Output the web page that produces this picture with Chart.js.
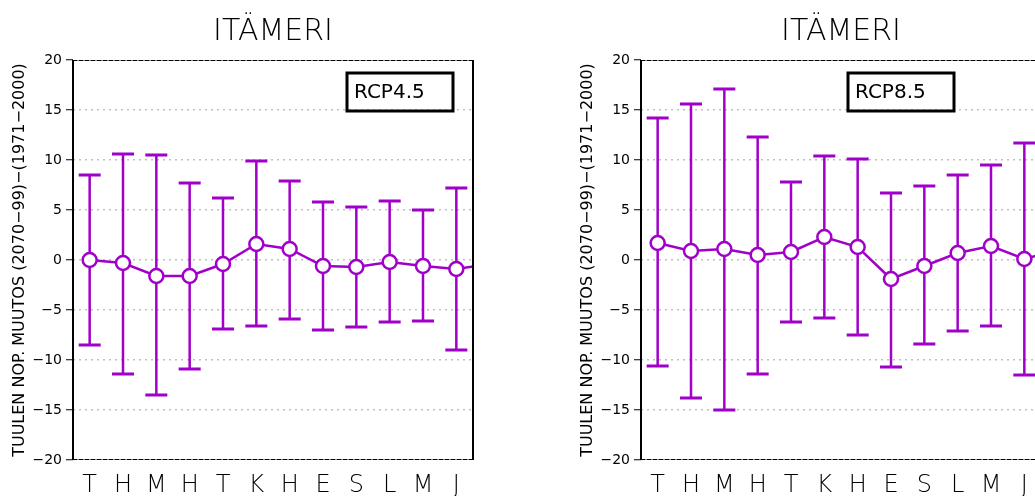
<!DOCTYPE html>
<html>
<head>
<meta charset="utf-8">
<script src="https://cdn.jsdelivr.net/npm/chart.js@4/dist/chart.umd.min.js"></script>
<style>
  body { margin: 0; width: 1035px; height: 496px; overflow: hidden; background: #fff; position: relative; }
  canvas { position: absolute; top: 0; }
  #left { left: 0; }
  #right { left: 568px; }
</style>
</head>
<body>
<canvas id="left" width="520" height="496"></canvas>
<canvas id="right" width="520" height="496"></canvas>
<script>
// months, Jan..Dec (Finnish initials); 13th mean value is January again
const months = ['T', 'H', 'M', 'H', 'T', 'K', 'H', 'E', 'S', 'L', 'M', 'J'];

// RCP4.5
const rcp45Mean = [0.0, -0.3, -1.6, -1.6, -0.4, 1.6, 1.1, -0.6, -0.7, -0.2, -0.6, -0.9, -0.4];
const rcp45Low  = [-8.5, -11.4, -13.5, -10.9, -6.9, -6.6, -5.9, -7.0, -6.7, -6.2, -6.1, -9.0];
const rcp45High = [8.5, 10.6, 10.5, 7.7, 6.2, 9.9, 7.9, 5.8, 5.3, 5.9, 5.0, 7.2];

// RCP8.5
const rcp85Mean = [1.7, 0.9, 1.1, 0.5, 0.8, 2.3, 1.3, -1.9, -0.6, 0.7, 1.4, 0.1, 1.0];
const rcp85Low  = [-10.6, -13.8, -15.0, -11.4, -6.2, -5.8, -7.5, -10.7, -8.4, -7.1, -6.6, -11.5];
const rcp85High = [14.2, 15.6, 17.1, 12.3, 7.8, 10.4, 10.1, 6.7, 7.4, 8.5, 9.5, 11.7];

const yTicks = [-20, -15, -10, -5, 0, 5, 10, 15, 20];

const purple = '#a000c8';
const yTitle = 'TUULEN NOP. MUUTOS (2070\u221299)\u2212(1971\u22122000)';

// error bars drawn under the line/markers
const errorBars = {
    id: 'errorBars',
    beforeDatasetsDraw(chart, args, opts) {
        const { ctx, scales: { x, y } } = chart;
        ctx.save();
        ctx.strokeStyle = purple;
        opts.low.forEach((lo, i) => {
            const px = x.getPixelForValue(i);
            const top = y.getPixelForValue(opts.high[i]);
            const bot = y.getPixelForValue(lo);
            ctx.lineWidth = 2.5;
            ctx.beginPath();
            ctx.moveTo(px, top);
            ctx.lineTo(px, bot);
            ctx.stroke();
            ctx.lineWidth = 3;
            ctx.beginPath();
            ctx.moveTo(px - 11, top);
            ctx.lineTo(px + 11, top);
            ctx.moveTo(px - 11, bot);
            ctx.lineTo(px + 11, bot);
            ctx.stroke();
        });
        ctx.restore();
    }
};

// frame, title and scenario box
const decor = {
    id: 'decor',
    afterDraw(chart, args, opts) {
        const { ctx, chartArea: a } = chart;
        ctx.save();
        // top / bottom dashed edges
        ctx.strokeStyle = '#888';
        ctx.lineWidth = 1;
        ctx.beginPath();
        ctx.moveTo(a.left, a.top + 0.5); ctx.lineTo(a.right, a.top + 0.5);
        ctx.moveTo(a.left, a.bottom - 0.5); ctx.lineTo(a.right, a.bottom - 0.5);
        ctx.stroke();
        ctx.strokeStyle = '#000';
        ctx.setLineDash([4, 2]);
        ctx.beginPath();
        ctx.moveTo(a.left, a.top + 0.5); ctx.lineTo(a.right, a.top + 0.5);
        ctx.moveTo(a.left, a.bottom - 0.5); ctx.lineTo(a.right, a.bottom - 0.5);
        ctx.stroke();
        ctx.setLineDash([]);
        // left / right solid edges
        ctx.lineWidth = 2;
        ctx.beginPath();
        ctx.moveTo(a.left, a.top); ctx.lineTo(a.left, a.bottom);
        ctx.moveTo(a.right, a.top); ctx.lineTo(a.right, a.bottom);
        ctx.stroke();

        // title
        ctx.fillStyle = '#000';
        ctx.font = '200 30px "DejaVu Sans"';
        ctx.textAlign = 'center';
        ctx.textBaseline = 'middle';
        ctx.fillText('IT\u00C4MERI', (a.left + a.right) / 2, 32);

        // scenario box
        const bx = a.left + opts.boxX, by = a.top + 13;
        ctx.lineWidth = 3;
        ctx.strokeRect(bx, by, 106, 38);
        ctx.font = '20px "DejaVu Sans"';
        ctx.textAlign = 'left';
        ctx.fillText(opts.label, bx + 7, by + 20);
        ctx.restore();
    }
};

function makePanel(canvas, means, lows, highs, label, boxX) {
    return new Chart(canvas.getContext('2d'), {
        type: 'line',
        data: {
            datasets: [{
                data: means.map((v, i) => ({ x: i, y: v })),
                borderColor: purple,
                borderWidth: 2.5,
                pointRadius: 7,
                pointBorderWidth: 2.5,
                pointBackgroundColor: '#fff',
                pointBorderColor: purple,
                tension: 0
            }]
        },
        options: {
            responsive: false,
            animation: false,
            events: [],
            layout: { padding: { top: 60, right: 47, left: 0, bottom: 0 } },
            plugins: {
                legend: { display: false },
                tooltip: { enabled: false },
                errorBars: { low: lows, high: highs },
                decor: { label: label, boxX: boxX }
            },
            scales: {
                x: {
                    type: 'linear',
                    min: -0.5,
                    max: 11.5,
                    afterBuildTicks: s => { s.ticks = months.map((m, i) => ({ value: i })); },
                    afterFit: s => { s.height = 36; },
                    grid: { display: false, drawTicks: false },
                    border: { display: false },
                    ticks: {
                        autoSkip: false,
                        maxRotation: 0,
                        padding: 11,
                        color: '#000',
                        font: { family: 'DejaVu Sans', size: 24, weight: 200 },
                        callback: v => months[v]
                    }
                },
                y: {
                    min: -20,
                    max: 20,
                    afterBuildTicks: s => { s.ticks = yTicks.map(v => ({ value: v })); },
                    afterFit: s => { s.width = 73; },
                    grid: {
                        color: c => Math.abs(c.tick.value) === 20 ? 'rgba(0,0,0,0)' : '#c0c0c0',
                        lineWidth: 1.5,
                        tickColor: '#000',
                        tickLength: 7,
                        tickWidth: 1,
                        tickBorderDash: []
                    },
                    border: { display: false, dash: [2, 4] },
                    ticks: {
                        padding: 4,
                        color: '#000',
                        font: { family: 'DejaVu Sans', size: 14 },
                        callback: v => String(v).replace('-', '\u2212')
                    },
                    title: {
                        display: true,
                        text: yTitle,
                        color: '#000',
                        font: { family: 'DejaVu Sans', size: 16 },
                        padding: { top: 10, bottom: 0 }
                    }
                }
            }
        },
        plugins: [errorBars, decor]
    });
}

makePanel(document.getElementById('left'), rcp45Mean, rcp45Low, rcp45High, 'RCP4.5', 274);
makePanel(document.getElementById('right'), rcp85Mean, rcp85Low, rcp85High, 'RCP8.5', 207);
</script>
</body>
</html>
